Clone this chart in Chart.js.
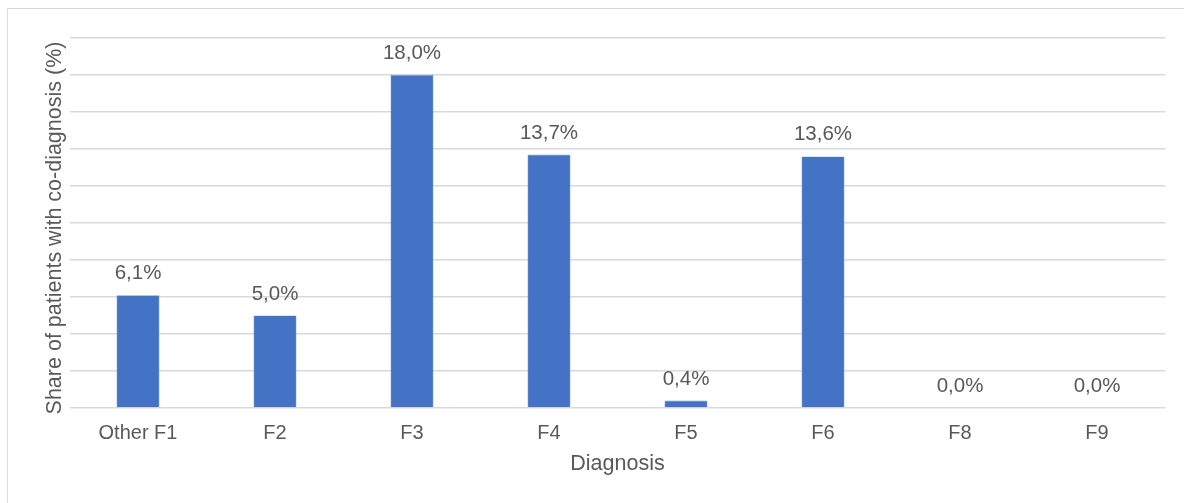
<!DOCTYPE html>
<html>
<head>
<meta charset="utf-8">
<script src="https://cdn.jsdelivr.net/npm/chart.js@4.4.1/dist/chart.umd.min.js"></script>
<style>
  html, body { margin: 0; padding: 0; background: #fff; }
  body { width: 1184px; height: 503px; position: relative; overflow: hidden; }
  #frame {
    position: absolute; left: 7px; top: 8px; width: 1200px; height: 520px;
    border-left: 1px solid #d9d9d9; border-top: 1px solid #d9d9d9;
  }
  #wrap { position: absolute; left: 0; top: 0; width: 1184px; height: 503px; }
</style>
</head>
<body>
<div id="frame"></div>
<div id="wrap"><canvas id="chart" width="1184" height="503"></canvas></div>
<script>
// Diagnosis categories and share of patients with each co-diagnosis (%)
const categories = ['Other F1', 'F2', 'F3', 'F4', 'F5', 'F6', 'F8', 'F9'];
const shares = [6.1, 5.0, 18.0, 13.7, 0.4, 13.6, 0.0, 0.0];
const yTicks = [0, 2, 4, 6, 8, 10, 12, 14, 16, 18, 20];
const yTitle = 'Share of patients with co-diagnosis (%)';

const TEXT = '#595959';
const FONT = "'Liberation Sans', Arial, sans-serif";

const fmt = v => v.toFixed(1).replace('.', ',') + '%';

// Value labels above each bar, plus the rotated y-axis title
const annotations = {
  id: 'annotations',
  afterDatasetsDraw(chart) {
    const ctx = chart.ctx;
    const meta = chart.getDatasetMeta(0);
    ctx.save();
    ctx.fillStyle = TEXT;
    ctx.font = '20.5px ' + FONT;
    ctx.textAlign = 'center';
    ctx.textBaseline = 'alphabetic';
    meta.data.forEach((bar, i) => {
      ctx.fillText(fmt(shares[i]), bar.x, bar.y - 16);
    });
    ctx.restore();

    const area = chart.chartArea;
    ctx.save();
    ctx.fillStyle = TEXT;
    ctx.font = '21.5px ' + FONT;
    ctx.textAlign = 'center';
    ctx.textBaseline = 'middle';
    ctx.translate(area.left - 14, (area.top + area.bottom) / 2 + 5);
    ctx.rotate(-Math.PI / 2);
    ctx.fillText(yTitle, 0, 0);
    ctx.restore();
  }
};

new Chart(document.getElementById('chart'), {
  type: 'bar',
  data: {
    labels: categories,
    datasets: [{
      data: shares,
      backgroundColor: '#4472c4',
      borderColor: '#7d9bd4',
      borderWidth: 0.6,
      categoryPercentage: 1,
      barPercentage: 0.314
    }]
  },
  options: {
    responsive: false,
    animation: false,
    events: [],
    layout: { padding: { top: 38, left: 0, right: 18.5, bottom: 0 } },
    plugins: { legend: { display: false }, tooltip: { enabled: false } },
    scales: {
      x: {
        grid: { display: false, drawTicks: false },
        border: { display: false },
        ticks: { color: TEXT, font: { family: FONT, size: 20 }, padding: 13, maxRotation: 0 },
        title: {
          display: true, text: 'Diagnosis', color: TEXT,
          font: { family: FONT, size: 21.5 }, padding: { top: 0, bottom: 26 }
        },
        afterFit(s) { s.height = 95; }
      },
      y: {
        min: 0, max: 20,
        afterBuildTicks(s) { s.ticks = yTicks.map(v => ({ value: v })); },
        grid: { color: '#d9d9d9', lineWidth: 1.5, drawTicks: false },
        border: { display: false },
        ticks: { display: false },
        afterFit(s) { s.width = 69.5; }
      }
    }
  },
  plugins: [annotations]
});
</script>
</body>
</html>
